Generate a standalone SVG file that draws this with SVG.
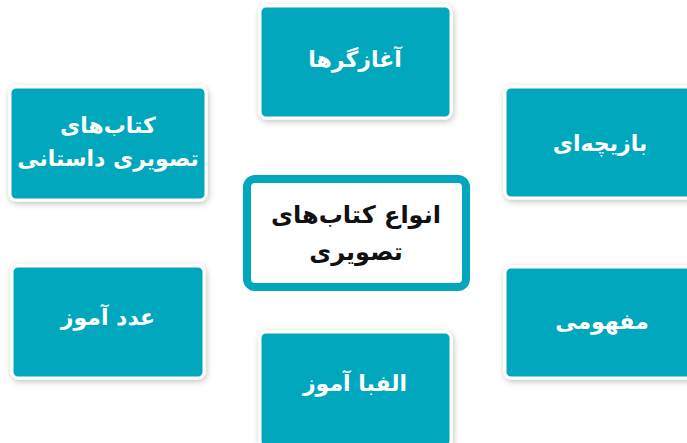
<svg xmlns="http://www.w3.org/2000/svg" width="687" height="443" viewBox="0 0 687 443">
<defs>
<filter id="sh" x="-20%" y="-20%" width="140%" height="140%">
<feDropShadow dx="1" dy="2" stdDeviation="3" flood-color="#000" flood-opacity="0.25"/>
</filter>
</defs>
<style>
.box{fill:#00a7bd;stroke:#fff;stroke-width:3;filter:url(#sh)}
.t{font-family:"DejaVu Sans","Noto Sans",sans-serif;font-weight:bold;font-size:22px;fill:#fff;text-anchor:middle;direction:rtl}
.c{font-family:"DejaVu Sans","Noto Sans",sans-serif;font-weight:bold;font-size:24px;fill:#111;text-anchor:middle;direction:rtl}
</style>
<rect width="687" height="443" fill="#fff"/>
<g id="connectors"></g>
<g id="n-top"><rect class="box" x="260" y="6" width="191" height="112" rx="6"/><text class="t" x="355" y="67">آغازگرها</text></g>
<g id="n-topleft"><rect class="box" x="10" y="87" width="196" height="113" rx="6"/><text class="t" x="108" y="133">کتاب&#x200C;های</text><text class="t" x="108" y="166">تصویری داستانی</text></g>
<g id="n-topright"><rect class="box" x="505" y="87" width="200" height="111" rx="6"/><text class="t" x="600" y="151">بازیچه&#x200C;ای</text></g>
<g id="n-bottomleft"><rect class="box" x="12" y="266" width="192" height="112" rx="6"/><text class="t" x="108" y="325">عدد آموز</text></g>
<g id="n-bottomright"><rect class="box" x="505" y="267" width="200" height="111" rx="6"/><text class="t" x="602" y="329">مفهومی</text></g>
<g id="n-bottom"><rect class="box" x="260" y="332" width="191" height="115" rx="6"/><text class="t" x="355" y="391">الفبا آموز</text></g>
<g id="n-center"><rect x="247" y="179" width="219" height="108" rx="8" fill="#fff" stroke="#00a7bd" stroke-width="8"/><text class="c" x="356" y="223">انواع کتاب&#x200C;های</text><text class="c" x="356" y="260">تصویری</text></g>
</svg>
